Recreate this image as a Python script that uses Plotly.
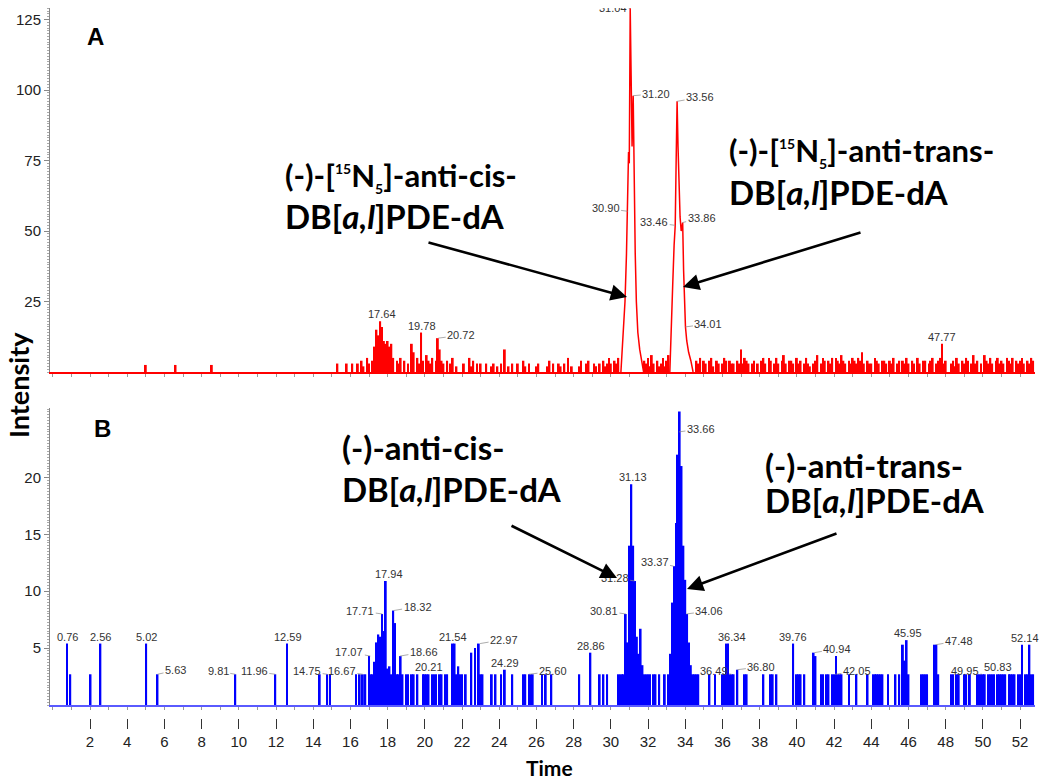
import plotly.graph_objects as go

# scan spacing of the chromatogram (min)
SCAN = 0.1

# ---------------- Panel A: [15N5]-labelled standards (red) ----------------
a_single_t = [5.0, 6.6, 8.55]
a_single_i = [2.5, 2.5, 2.5]

a_noise1_start = 15.0
a_noise1 = [
    0, 0, 0, 3, 0, 0, 0, 0, 3, 0,       # 15
    0, 3, 0, 0, 3, 0, 4, 2, 0, 5,       # 16
    3, 0, 4, 9, 15, 13, 18, 16, 11, 10,  # 17
    11, 9, 10, 5, 0, 4, 3, 5, 0, 4,     # 18
    0, 3, 0, 10, 7, 0, 5, 3, 14, 4,     # 19
    0, 6, 4, 3, 5, 0, 4, 12, 8, 4,      # 20
    3, 0, 4, 0, 3, 5, 0, 2, 0, 0,       # 21
    0, 3, 0, 0, 5, 2, 4, 0, 3, 0,       # 22
    3, 0, 0, 3, 0, 0, 2, 3, 0, 2,       # 23
    0, 3, 0, 8, 0, 2, 0, 3, 0, 0,       # 24
    3, 0, 0, 4, 2, 0, 3, 0, 0, 0,       # 25
    2, 3, 0, 0, 0, 0, 2, 4, 0, 3,       # 26
    0, 0, 3, 2, 0, 3, 0, 5, 0, 2,       # 27
    0, 0, 0, 2, 4, 0, 0, 3, 4, 0,       # 28
    0, 3, 2, 0, 3, 0, 4, 2, 3, 5,       # 29
    3, 0, 4, 3, 5,                      # 30.0 - 30.4
]
a_noise2_start = 31.8
a_noise2 = [4, 3, 5, 2, 6, 3, 0, 4, 2, 3, 5, 2, 4, 6]
a_noise3_start = 34.5
a_noise3 = [
    0, 4, 3, 5, 0,                      # 34.5 - 34.9
    4, 3, 0, 4, 5, 2, 0, 4, 3, 0,       # 35
    3, 5, 4, 0, 4, 3, 3, 0, 4, 3,       # 36
    8, 3, 5, 4, 3, 0, 3, 4, 0, 3,       # 37
    0, 4, 5, 3, 0, 5, 4, 0, 3, 5,       # 38
    3, 0, 4, 6, 3, 0, 4, 4, 3, 0,       # 39
    5, 3, 4, 0, 3, 5, 3, 2, 0, 3,       # 40
    4, 6, 0, 3, 5, 4, 0, 4, 3, 5,       # 41
    0, 5, 4, 3, 6, 4, 3, 0, 4, 3,       # 42
    5, 4, 3, 5, 4, 7, 3, 0, 4, 3,       # 43
    3, 0, 5, 4, 3, 0, 4, 4, 3, 0,       # 44
    4, 3, 5, 0, 3, 4, 0, 4, 3, 5,       # 45
    3, 0, 4, 3, 0, 5, 3, 0, 4, 4,       # 46
    0, 3, 4, 5, 0, 3, 4, 5, 10, 3,      # 47
    4, 0, 0, 3, 4, 2, 5, 3, 0, 4,       # 48
    3, 5, 4, 0, 3, 6, 3, 4, 0, 3,       # 49
    0, 6, 4, 3, 5, 3, 0, 4, 5, 3,       # 50
    4, 3, 0, 5, 4, 3, 5, 0, 4, 3,       # 51
    4, 5, 3, 0, 4, 3, 5, 4,             # 52.0 - 52.7
]

# the two adduct peaks, drawn as a profile
a_cis_t = [30.54, 30.65, 30.76, 30.84, 30.90, 30.95, 30.99, 31.04, 31.09,
           31.14, 31.20, 31.25, 31.31, 31.37, 31.45, 31.55, 31.65, 31.76]
a_cis_i = [0, 12, 25, 42, 57, 78, 74, 129, 105, 80, 98, 62, 42, 25, 14, 8, 4, 0]
a_trans_t = [33.17, 33.26, 33.33, 33.40, 33.46, 33.51, 33.56, 33.61, 33.66, 33.72,
             33.78, 33.86, 33.91, 33.96, 34.01, 34.08, 34.18, 34.30, 34.42]
a_trans_i = [0, 15, 32, 45, 52, 75, 96, 80, 64, 55, 50, 53, 36, 25, 16, 11, 7, 4, 0]

a_labels = ["31.04", "31.20", "33.56", "30.90", "33.46", "33.86", "34.01",
            "17.64", "19.78", "20.72", "47.77"]
a_label_i = [129, 98, 96, 57, 52, 53, 16, 18, 14, 12, 10]

# ---------------- Panel B: unlabelled adducts (blue) ----------------
b_single_t = [0.76, 0.94, 2.03, 2.56, 5.02, 5.63, 9.81, 11.96, 12.59,
              14.35, 14.75, 14.9, 16.3, 16.5, 16.67, 16.8]
b_single_i = [5.4, 2.7, 2.7, 5.4, 5.4, 2.7, 2.7, 2.7, 5.4,
              2.7, 2.7, 2.7, 2.7, 2.7, 2.7, 2.7]

b_noise_start = 17.0
b_noise = [
    4.3, 2.7, 2.7, 3.8, 5.5, 6.2, 6.0, 8.0, 6.5, 10.9,   # 17
    3.2, 3.4, 2.7, 8.3, 7.2, 2.7, 2.7, 4.3, 2.7, 0,      # 18
    2.7, 2.7, 0, 2.7, 2.7, 0, 2.7, 0, 0, 2.7,            # 19
    2.7, 2.7, 2.7, 0, 2.7, 2.7, 2.7, 0, 2.7, 2.7,        # 20
    0, 2.7, 2.7, 0, 0, 5.4, 5.4, 2.7, 3.4, 2.7,          # 21
    2.7, 0, 2.7, 0, 0, 4.6, 0, 5.0, 0, 5.4,              # 22
    2.7, 2.7, 0, 0, 0, 0, 2.7, 0, 2.7, 0,                # 23
    0, 2.7, 0, 3.1, 0, 0, 0, 2.7, 0, 0,                  # 24
    0, 0, 0, 2.7, 2.7, 0, 2.7, 2.7, 2.7, 0,              # 25
    0, 0, 0, 2.7, 0, 2.7, 0, 0, 2.7, 0,                  # 26
    0, 0, 0, 0, 0, 0, 0, 0, 0, 0,                        # 27
    0, 0, 0, 2.7, 0, 0, 0, 0, 0, 4.6,                    # 28
    0, 0, 0, 0, 2.7, 0, 2.7, 0, 2.7, 0,                  # 29
    0, 0, 0, 0, 2.7, 2.7, 2.7, 2.7, 8.0, 5.5,            # 30
    14, 19.4, 14, 10.9, 6.0, 4.5, 6.7, 3.5, 2.7, 2.7,    # 31
    2.7, 2.7, 0, 2.7, 2.7, 0, 2.7, 0, 0, 2.7,            # 32
    0, 2.7, 4.5, 9.0, 12.2, 16, 22, 25.8, 21, 14,        # 33
    11, 8.0, 5.5, 3.5, 2.7, 2.7, 2.7, 2.7, 0, 0,         # 34
    0, 0, 0, 2.7, 0, 0, 2.7, 0, 0, 0,                    # 35
    2.7, 2.7, 5.4, 5.4, 2.7, 2.7, 2.7, 0, 3.1, 0,        # 36
    0, 0, 2.7, 2.7, 0, 0, 0, 0, 0, 0,                    # 37
    0, 0, 2.7, 0, 0, 0, 2.7, 2.7, 0, 2.7,                # 38
    0, 0, 0, 0, 0, 0, 0, 0, 5.4, 0,                      # 39
    2.7, 2.7, 2.7, 0, 2.7, 0, 0, 0, 0, 4.6,              # 40
    4.3, 0, 0, 2.7, 2.7, 0, 2.7, 2.7, 0, 2.7,            # 41
    2.7, 4.3, 2.7, 2.7, 2.7, 0, 0, 0, 2.7, 0,            # 42
    0, 0, 2.7, 0, 0, 0, 0, 0, 2.7, 0,                    # 43
    0, 2.7, 2.7, 2.7, 2.7, 2.7, 2.7, 0, 0, 2.7,          # 44
    0, 0, 0, 2.7, 0, 2.7, 0, 5.3, 3.9, 5.7,              # 45
    2.7, 0, 0, 0, 0, 0, 0, 2.7, 2.7, 2.7,                # 46
    2.7, 0, 0, 0, 5.3, 5.3, 2.7, 0, 0, 0,                # 47
    0, 0, 0, 2.7, 2.7, 0, 2.7, 2.7, 0, 0,                # 48
    2.7, 2.7, 0, 2.7, 0, 0, 0, 2.7, 2.7, 2.7,            # 49
    2.7, 2.7, 0, 2.7, 2.7, 2.7, 2.7, 0, 2.7, 2.7,        # 50
    2.7, 2.7, 2.7, 0, 2.7, 2.7, 2.7, 2.7, 0, 2.7,        # 51
    2.7, 5.3, 0, 2.7, 2.7, 5.3, 2.7, 2.7,                # 52.0 - 52.7
]

b_labels = ["0.76", "2.56", "5.02", "5.63", "9.81", "11.96", "12.59", "14.75",
            "16.67", "17.07", "17.71", "17.94", "18.32", "18.66", "20.21", "21.54",
            "22.97", "24.29", "25.60", "28.86", "30.81", "31.28", "31.13", "33.37",
            "33.66", "34.06", "36.34", "36.49", "36.80", "39.76", "40.94", "42.05",
            "45.95", "47.48", "49.95", "50.83", "52.14"]
b_label_i = [5.4, 5.4, 5.4, 2.7, 2.7, 2.7, 5.4, 2.7,
             2.7, 4.3, 8.0, 10.9, 8.3, 4.3, 2.7, 5.4,
             5.4, 3.1, 2.7, 4.6, 8.0, 10.9, 19.4, 12.2,
             24.0, 8.0, 5.4, 2.7, 3.1, 5.4, 4.6, 2.7,
             5.7, 5.3, 2.7, 2.7, 5.3]

x_ticks = list(range(2, 53, 2))

# ---------------- layout geometry ----------------
# the page body keeps its default 8 px margin, so the figure is drawn 8 px in
# from the window corner; positions below are given in window pixels.
PAGE = 8
W, H = 1050 - PAGE, 777 - PAGE
M_L, M_R, M_T, M_B = 50 - PAGE, 15, 0, 59
PLOT_W = W - M_L - M_R
PLOT_H = H - M_T - M_B
X_RANGE = [-0.15, 52.8]


def paper_x(px):
    return (px - PAGE - M_L) / PLOT_W


def paper_y(py):
    return (M_T + PLOT_H - (py - PAGE)) / PLOT_H


def scan_times(start, n):
    return [round(start + SCAN * k, 2) for k in range(n)]


# label text offsets (pixels from the peak apex to the label centre)
a_label_off = [(-17, -6), (23, -2), (23, -4), (-22, -3), (-21, -3), (19, -5),
               (23, -3), (1, -7), (1, -7), (23, -3), (1, -7)]
b_label_off = [(1, -7), (0, -7), (0, -7), (18, -4), (-17, -3), (-21, -3), (1, -7),
               (-20, -3), (-21, -3), (-21, -4), (-22, -3), (2, -7), (24, -4),
               (24, -4), (0, -7), (0, -7), (24, -4), (0, -7), (24, -3), (1, -7),
               (-22, -3), (-20, -3), (1, -7), (-19, -4), (22, -3), (23, -3),
               (3, -7), (-18, -3), (24, -3), (1, -7), (23, -4), (22, -3), (0, -7),
               (23, -4), (-17, -3), (0, -7), (2, -7)]

RED = "#ff0000"
BLUE = "#0000ff"

fig = go.Figure()

# panel A sticks
for xs, ys in [(a_single_t, a_single_i),
               (scan_times(a_noise1_start, len(a_noise1)), a_noise1),
               (scan_times(a_noise2_start, len(a_noise2)), a_noise2),
               (scan_times(a_noise3_start, len(a_noise3)), a_noise3)]:
    fig.add_trace(go.Bar(x=xs, y=ys, width=SCAN, marker=dict(color=RED, line_width=0),
                         xaxis="x", yaxis="y", hoverinfo="x+y"))
# panel A adduct peaks
for xs, ys in [(a_cis_t, a_cis_i), (a_trans_t, a_trans_i)]:
    fig.add_trace(go.Scatter(x=xs, y=ys, mode="lines", line=dict(color=RED, width=1.5),
                             xaxis="x", yaxis="y"))

# panel B sticks
for xs, ys in [(b_single_t, b_single_i),
               (scan_times(b_noise_start, len(b_noise)), b_noise)]:
    fig.add_trace(go.Bar(x=xs, y=ys, width=SCAN, marker=dict(color=BLUE, line_width=0),
                         xaxis="x2", yaxis="y2", hoverinfo="x+y"))

# carrier for the labelled time axis below panel B
fig.add_trace(go.Scatter(x=[], y=[], xaxis="x3", yaxis="y3", hoverinfo="skip"))

tick_font = dict(family="Liberation Sans, Arial", size=15, color="#222")

annotations = []

# peak time labels
label_font = dict(family="Liberation Sans, Arial", size=11, color="#333")
for txt, yi, (dx, dy) in zip(a_labels, a_label_i, a_label_off):
    annotations.append(dict(x=float(txt), y=yi, xref="x", yref="y", text=txt,
                            showarrow=True, arrowhead=0, arrowwidth=0.7,
                            arrowcolor="#888", ax=dx, ay=dy, font=label_font))
for txt, yi, (dx, dy) in zip(b_labels, b_label_i, b_label_off):
    annotations.append(dict(x=float(txt), y=yi, xref="x2", yref="y2", text=txt,
                            showarrow=True, arrowhead=0, arrowwidth=0.7,
                            arrowcolor="#888", ax=dx, ay=dy, font=label_font))

# compound names
name_font = dict(family="Lato, Open Sans, sans-serif", size=33, color="black", weight="bold")
iso_font = dict(name_font, size=31)
iso = ('[<sup><span style="font-size:14px">15</span></sup>N'
       '<sub><span style="font-size:14px">5</span></sub>]')
names = [
    ("(-)-" + iso + "-anti-cis-", 283, 176, iso_font),
    ("DB[<i>a,l</i>]PDE-dA", 283, 216, name_font),
    ("(-)-" + iso + "-anti-trans-", 727, 152, iso_font),
    ("DB[<i>a,l</i>]PDE-dA", 727, 192, name_font),
    ("(-)-anti-cis-", 340, 447, name_font),
    ("DB[<i>a,l</i>]PDE-dA", 340, 489, name_font),
    ("(-)-anti-trans-", 763, 465, name_font),
    ("DB[<i>a,l</i>]PDE-dA", 763, 500, name_font),
]
for txt, px, py, fnt in names:
    annotations.append(dict(x=paper_x(px), y=paper_y(py), xref="paper", yref="paper",
                            text=txt, showarrow=False, xanchor="left", yanchor="middle",
                            font=fnt))

# arrows pointing to the peaks: (tail x, tail y, head x, head y)
arrows = [(427, 242, 627, 297), (862, 232, 683, 287),
          (510, 525, 617, 578), (838, 533, 687, 589)]
for sx, sy, ex, ey in arrows:
    annotations.append(dict(x=paper_x(ex), y=paper_y(ey), xref="paper", yref="paper",
                            ax=sx - ex, ay=sy - ey, text="", showarrow=True,
                            arrowhead=2, arrowsize=1.25, arrowwidth=2.6,
                            arrowcolor="black"))

# panel letters and axis titles
for txt, px, py in [("A", 95, 37), ("B", 102, 428)]:
    annotations.append(dict(x=paper_x(px), y=paper_y(py), xref="paper", yref="paper",
                            text="<b>%s</b>" % txt, showarrow=False,
                            xanchor="center", yanchor="middle",
                            font=dict(family="Liberation Sans, Arial", size=24,
                                      color="black")))
annotations.append(dict(x=paper_x(549), y=paper_y(768), xref="paper", yref="paper",
                        text="Time", showarrow=False, xanchor="center", yanchor="middle",
                        font=dict(family="Lato, sans-serif", size=21, color="black",
                                  weight="bold")))
annotations.append(dict(x=paper_x(19), y=paper_y(385), xref="paper", yref="paper",
                        text="Intensity", showarrow=False, textangle=-90,
                        xanchor="center", yanchor="middle",
                        font=dict(family="Lato, sans-serif", size=27, color="black",
                                  weight="bold")))

fig.update_layout(
    width=W, height=H,
    margin=dict(l=M_L, r=M_R, t=M_T, b=M_B),
    plot_bgcolor="white", paper_bgcolor="white",
    showlegend=False, barmode="overlay",
    font=tick_font,
    xaxis=dict(domain=[0, 1], anchor="y", range=X_RANGE, showline=True,
               linecolor=RED, linewidth=1.5, ticks="outside", tick0=0, dtick=1,
               ticklen=3, tickcolor="#999", showticklabels=False,
               showgrid=False, zeroline=False),
    yaxis=dict(domain=[paper_y(372), 1], anchor="x", range=[0, 129.1], showline=True,
               linecolor="#888", ticks="outside", ticklen=5, tickcolor="#888",
               tickvals=[25, 50, 75, 100, 125], tickfont=tick_font,
               minor=dict(dtick=1, ticks="outside", ticklen=2, tickcolor="#aaa"),
               showgrid=False, zeroline=False),
    xaxis2=dict(domain=[0, 1], anchor="y2", range=X_RANGE, showline=True,
                linecolor="#5a5aff", linewidth=1.5, ticks="outside", tick0=0, dtick=1,
                ticklen=3, tickcolor="#999", showticklabels=False,
                showgrid=False, zeroline=False),
    yaxis2=dict(domain=[paper_y(705), paper_y(408)], anchor="x2", range=[0, 26.1],
                showline=True, linecolor="#888", ticks="outside", ticklen=5,
                tickcolor="#888", tickvals=[5, 10, 15, 20], tickfont=tick_font,
                minor=dict(dtick=0.25, ticks="outside", ticklen=2, tickcolor="#aaa"),
                showgrid=False, zeroline=False),
    xaxis3=dict(domain=[0, 1], anchor="y3", range=X_RANGE, showline=False,
                ticks="outside", ticklen=10, tickwidth=1, tickcolor="#333",
                tickvals=x_ticks, tickfont=tick_font, showgrid=False, zeroline=False),
    yaxis3=dict(domain=[0, paper_y(706)], anchor="x3", visible=False),
    annotations=annotations,
)

fig.write_html("out.html")
